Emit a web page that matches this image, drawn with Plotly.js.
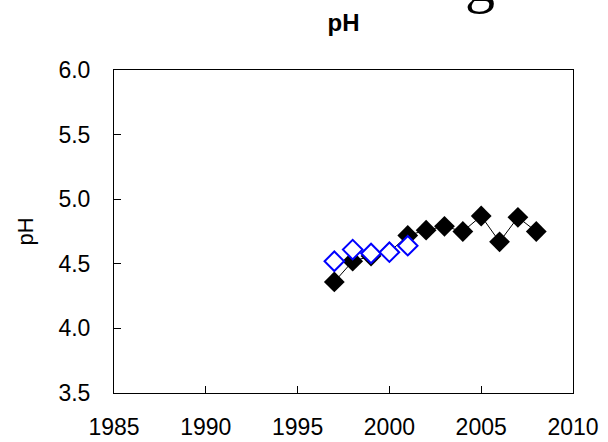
<!DOCTYPE html>
<html>
<head>
<meta charset="utf-8">
<script src="https://cdn.plot.ly/plotly-3.0.1.min.js"></script>
<style>html,body{margin:0;padding:0;background:#fff;}#chart{width:608px;height:442px;}</style>
</head>
<body>
<div id="chart"></div>
<script>
// Data
const yearsA = [1997, 1998, 1999, 2000, 2001, 2002, 2003, 2004, 2005, 2006, 2007, 2008];
const phA    = [4.36, 4.52, 4.56, 4.59, 4.72, 4.76, 4.79, 4.75, 4.87, 4.67, 4.86, 4.75];
const yearsB = [1997, 1998, 1999, 2000, 2001];
const phB    = [4.52, 4.61, 4.58, 4.59, 4.64];
const xTicks = [1985, 1990, 1995, 2000, 2005, 2010];
const yTicks = [3.5, 4.0, 4.5, 5.0, 5.5, 6.0];
const yTickText = yTicks.map(v => v.toFixed(1));

const traces = [
  {
    x: yearsA, y: phA, type: 'scatter', mode: 'lines+markers',
    line: {color: '#000000', width: 1},
    marker: {symbol: 'diamond', size: 16, color: '#000000', line: {width: 0}},
    showlegend: false
  },
  {
    x: yearsB, y: phB, type: 'scatter', mode: 'markers',
    marker: {symbol: 'diamond', size: 15, color: '#ffffff', line: {color: '#0000ff', width: 2}},
    showlegend: false
  }
];

const font = {family: 'Liberation Sans, Arial, sans-serif', color: '#000000'};

const layout = {
  width: 608, height: 442,
  margin: {l: 114, r: 35, t: 70, b: 49},
  paper_bgcolor: '#ffffff', plot_bgcolor: '#ffffff',
  font: font,
  title: {
    text: '<b>pH</b>',
    font: {family: font.family, size: 24, color: '#000'},
    x: 0.5, xref: 'paper', xanchor: 'center',
    y: 1 - 23/442, yref: 'container', yanchor: 'middle'
  },
  xaxis: {
    range: [1985, 2010], tickvals: xTicks, ticktext: xTicks.map(String),
    showgrid: false, zeroline: false,
    showline: true, linecolor: '#000', linewidth: 1, mirror: true,
    ticks: 'inside', ticklen: 7, tickcolor: '#000', tickwidth: 1,
    tickfont: {family: font.family, size: 23, color: '#000'},
    ticklabelstandoff: 13
  },
  yaxis: {
    range: [3.5, 6.0], tickvals: yTicks, ticktext: yTickText,
    showgrid: false, zeroline: false,
    showline: true, linecolor: '#000', linewidth: 1, mirror: true,
    ticks: 'inside', ticklen: 7, tickcolor: '#000', tickwidth: 1,
    tickfont: {family: font.family, size: 23, color: '#000'},
    ticklabelstandoff: 18,
    title: {text: 'pH', font: {family: font.family, size: 22, color: '#000'}, standoff: 18}
  },
  annotations: [
    {
      text: 'g', xref: 'paper', yref: 'paper',
      x: (480 - 114) / 459, y: (393 - 16) / 323,
      xanchor: 'center', yanchor: 'bottom', showarrow: false,
      font: {family: 'Liberation Serif', size: 60, color: '#000'}
    }
  ]
};

Plotly.newPlot('chart', traces, layout, {displayModeBar: false, staticPlot: true});
</script>
</body>
</html>
